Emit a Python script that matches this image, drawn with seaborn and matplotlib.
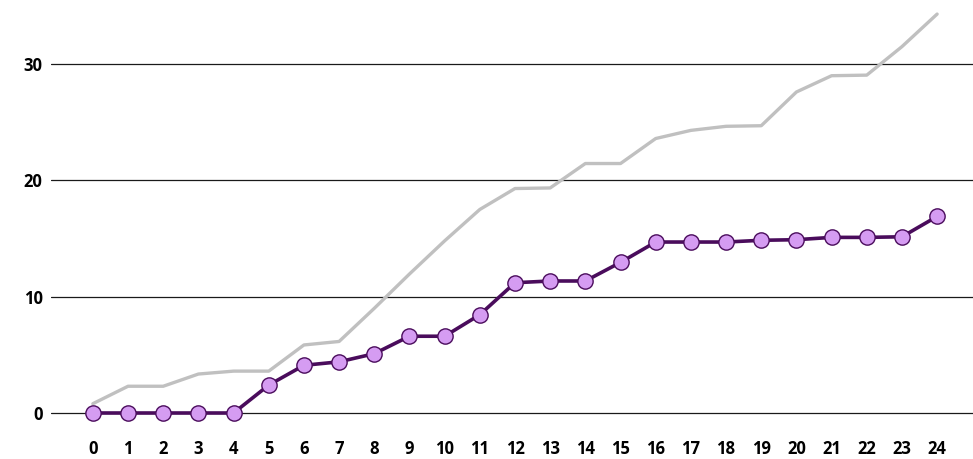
import matplotlib
matplotlib.use("Agg")
import matplotlib.pyplot as plt
import seaborn as sns
import pandas as pd

# Hourly cumulative values
hours = list(range(25))
actual = [0, 0, 0, 0, 0, 2.4, 4.1, 4.4, 5.1, 6.6, 6.6, 8.45, 11.2, 11.35, 11.35,
          12.95, 14.7, 14.7, 14.7, 14.85, 14.9, 15.1, 15.1, 15.15, 16.9]
reference = [0.8, 2.3, 2.3, 3.35, 3.6, 3.6, 5.85, 6.15, 9.0, 11.95, 14.8, 17.5,
             19.3, 19.35, 21.45, 21.45, 23.6, 24.3, 24.65, 24.7, 27.6, 29.0,
             29.05, 31.5, 34.3]
y_ticks = [0, 10, 20, 30]

df = pd.DataFrame({"hour": hours, "actual": actual, "reference": reference})

sns.set_theme(style="white")
plt.rcParams["font.family"] = ["Open Sans", "DejaVu Sans"]

fig = plt.figure(figsize=(9.73, 4.59), dpi=100)
ax = fig.add_axes([51 / 973, 29 / 459, 922 / 973, 430 / 459])

for y in y_ticks:
    ax.axhline(y, color="#1a1a1a", lw=0.9, zorder=1)

sns.lineplot(data=df, x="hour", y="reference", ax=ax, color="#c0c0c0",
             lw=2.4, zorder=2)
sns.lineplot(data=df, x="hour", y="actual", ax=ax, color="#4a0c5c",
             lw=2.6, marker="o", markersize=11, markerfacecolor="#d59cf2",
             markeredgecolor="#4a0c5c", markeredgewidth=1.0, zorder=3)

ax.set_xlim(-1.19, 25.02)
ax.set_ylim(-1.462, 35.51)
ax.set_xticks(hours)
ax.set_yticks(y_ticks)
ax.set_xlabel("")
ax.set_ylabel("")
ax.tick_params(axis="both", length=0, labelsize=12, colors="black")
ax.tick_params(axis="x", pad=7.5)
ax.tick_params(axis="y", pad=6)
for lab in ax.get_xticklabels() + ax.get_yticklabels():
    lab.set_fontweight("bold")
for s in ax.spines.values():
    s.set_visible(False)
ax.grid(False)

fig.savefig("out.png", dpi=100)
